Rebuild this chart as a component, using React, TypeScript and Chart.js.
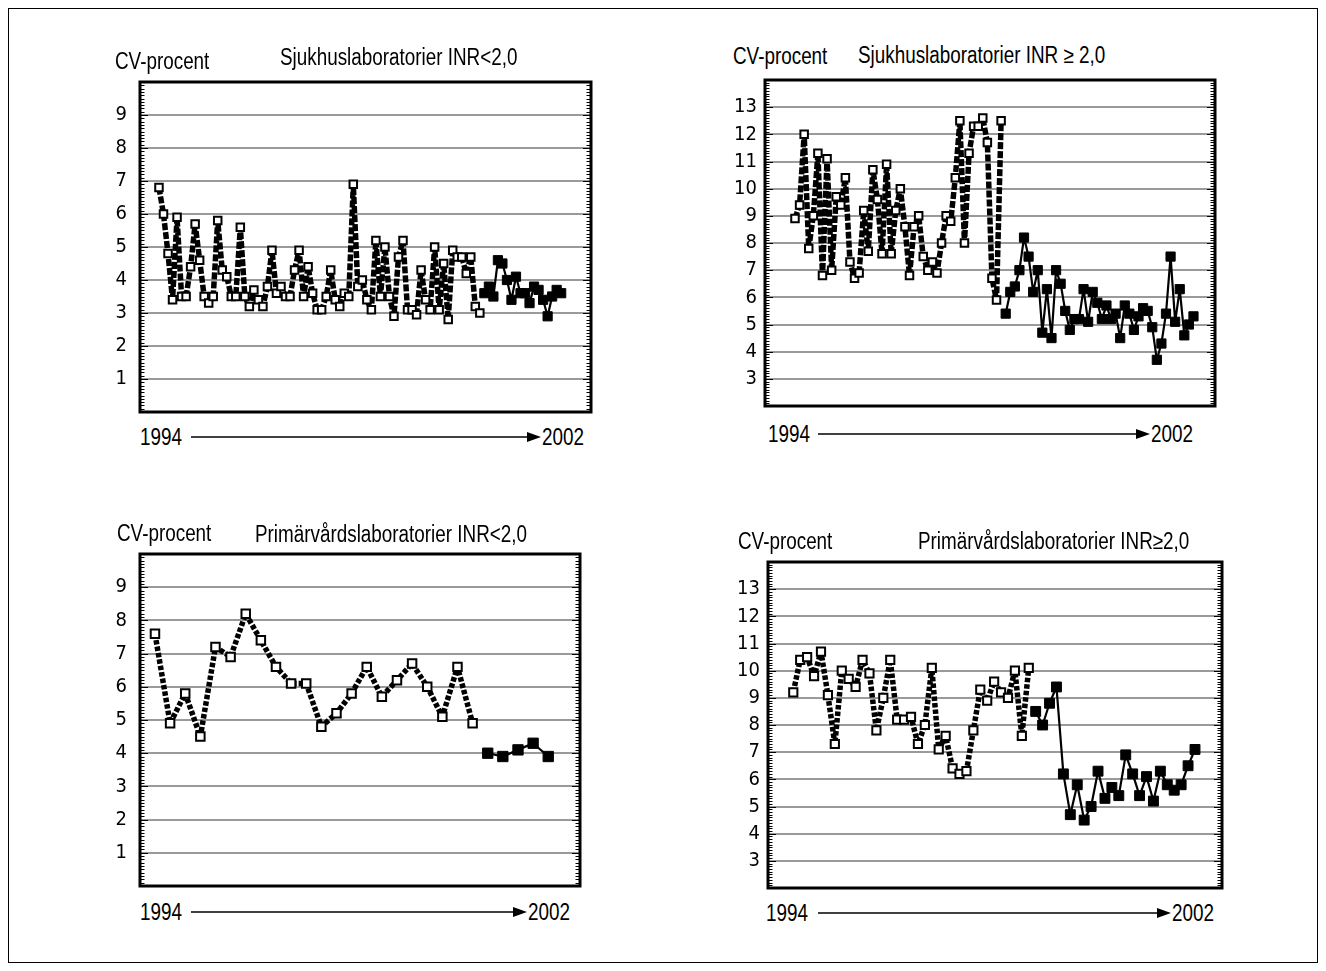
import React, { useEffect, useRef } from 'react';
import { Chart, registerables } from 'chart.js';
Chart.register(...registerables);

const TEXT_FONT = '"Liberation Sans", Arimo, Arial, sans-serif';
const TICK_FONT = '"DejaVu Sans Condensed", "Liberation Sans", sans-serif';

// ---------- data ----------
const p1Hollow = [6.8, 6.0, 4.8, 3.4, 5.9, 3.5, 3.5, 4.4, 5.7, 4.6, 3.5, 3.3, 3.5, 5.8, 4.3, 4.1, 3.5, 3.5, 5.6, 3.5, 3.2, 3.7, 3.4, 3.2, 3.8, 4.9, 3.6, 3.8, 3.5, 3.5, 4.3, 4.9, 3.5, 4.4, 3.6, 3.1, 3.1, 3.5, 4.3, 3.4, 3.2, 3.6, 3.5, 6.9, 3.8, 4.0, 3.4, 3.1, 5.2, 3.5, 5.0, 3.5, 2.9, 4.7, 5.2, 3.1, 3.1, 2.95, 4.3, 3.4, 3.1, 5.0, 3.1, 4.5, 2.8, 4.9, 4.7, 4.7, 4.2, 4.7, 3.2, 3.0];
const p1Solid = [3.6, 3.8, 3.5, 4.6, 4.5, 4.0, 3.4, 4.1, 3.6, 3.6, 3.3, 3.8, 3.7, 3.4, 2.9, 3.5, 3.7, 3.6];

const p2Hollow = [8.9, 9.4, 12.0, 7.8, 9.0, 11.3, 6.8, 11.1, 7.0, 9.7, 9.4, 10.4, 7.3, 6.7, 6.9, 9.2, 7.7, 10.7, 9.6, 7.6, 10.9, 7.6, 9.2, 10.0, 8.6, 6.8, 8.6, 9.0, 7.5, 7.0, 7.3, 6.9, 8.0, 9.0, 8.8, 10.4, 12.5, 8.0, 11.3, 12.3, 12.3, 12.6, 11.7, 6.7, 5.9, 12.5];
const p2Solid = [5.4, 6.2, 6.4, 7.0, 8.2, 7.5, 6.2, 7.0, 4.7, 6.3, 4.5, 7.0, 6.5, 5.5, 4.8, 5.2, 5.2, 6.3, 5.1, 6.2, 5.8, 5.2, 5.7, 5.2, 5.4, 4.5, 5.7, 5.4, 4.8, 5.3, 5.6, 5.5, 4.9, 3.7, 4.3, 5.4, 7.5, 5.1, 6.3, 4.6, 5.0, 5.3];

const p3Hollow = [7.6, 4.9, 5.8, 4.5, 7.2, 6.9, 8.2, 7.4, 6.6, 6.1, 6.1, 4.8, 5.2, 5.8, 6.6, 5.7, 6.2, 6.7, 6.0, 5.1, 6.6, 4.9];
const p3Solid = [4.0, 3.9, 4.1, 4.3, 3.9];

const p4Hollow = [9.2, 10.4, 10.5, 9.8, 10.7, 9.1, 7.3, 10.0, 9.7, 9.4, 10.4, 9.9, 7.8, 9.0, 10.4, 8.2, 8.2, 8.3, 7.3, 8.0, 10.1, 7.1, 7.6, 6.4, 6.2, 6.3, 7.8, 9.3, 8.9, 9.6, 9.2, 9.0, 10.0, 7.6, 10.1];
const p4Solid = [8.5, 8.0, 8.8, 9.4, 6.2, 4.7, 5.8, 4.5, 5.0, 6.3, 5.3, 5.7, 5.4, 6.9, 6.2, 5.4, 6.1, 5.2, 6.3, 5.8, 5.6, 5.8, 6.5, 7.1];

const yLabel = 'CV-procent';
const titles = ['Sjukhuslaboratorier INR<2,0', 'Sjukhuslaboratorier INR \u2265 2,0', 'Primärvårdslaboratorier INR<2,0', 'Primärvårdslaboratorier INR\u22652,0'];
const startYear = '1994';
const endYear = '2002';

// ---------- layout ----------
const AXW = 50;
const PAD = 10;

type Spec = {
  hollow: number[]; solid: number[]; title: string;
  L: number; T: number; R: number; B: number;
  yMin: number; yMax: number; xMin: number; xMax: number;
  dash: number[]; lw: number; labelPad: number; hr: number; sr: number;
  cvX: number; cvY: number; titleX: number; titleY: number;
  footY: number; f1994: number; arrowFrom: number; arrowTo: number; f2002: number;
};

const specs: Spec[] = [
  { hollow: p1Hollow, solid: p1Solid, title: titles[0], L: 140, T: 82, R: 591, B: 412, yMin: 0, yMax: 10, xMin: -4.2, xMax: 95.6, dash: [7, 2], lw: 5.5, labelPad: 13, hr: 5.3, sr: 6.5,
    cvX: 115, cvY: 61, titleX: 280, titleY: 57, footY: 437, f1994: 140, arrowFrom: 191, arrowTo: 541, f2002: 542 },
  { hollow: p2Hollow, solid: p2Solid, title: titles[1], L: 765, T: 80, R: 1215, B: 406, yMin: 2, yMax: 14, xMin: -6.55, xMax: 91.7, dash: [7, 2], lw: 5.5, labelPad: 8, hr: 5.3, sr: 6.5,
    cvX: 733, cvY: 56, titleX: 858, titleY: 55, footY: 434, f1994: 768, arrowFrom: 818, arrowTo: 1150, f2002: 1151 },
  { hollow: p3Hollow, solid: p3Solid, title: titles[2], L: 140, T: 554, R: 580, B: 886, yMin: 0, yMax: 10, xMin: -0.99, xMax: 28.1, dash: [4.5, 2], lw: 5.5, labelPad: 13, hr: 6.0, sr: 7.3,
    cvX: 117, cvY: 533, titleX: 255, titleY: 534, footY: 912, f1994: 140, arrowFrom: 191, arrowTo: 527, f2002: 528 },
  { hollow: p4Hollow, solid: p4Solid, title: titles[3], L: 768, T: 562, R: 1222, B: 888, yMin: 2, yMax: 14, xMin: -3.65, xMax: 61.9, dash: [4.5, 2], lw: 5.5, labelPad: 8, hr: 5.8, sr: 7.0,
    cvX: 738, cvY: 541, titleX: 918, titleY: 541, footY: 913, f1994: 766, arrowFrom: 818, arrowTo: 1171, f2002: 1172 },
];

const framePlugin = {
  id: 'frame',
  beforeDatasetsDraw(chart: any) {
    const { ctx, chartArea: a, scales } = chart;
    const y = scales.y;
    ctx.save();
    ctx.strokeStyle = '#000';
    ctx.lineWidth = 1;
    const step = 0.1;
    const n = Math.round((y.max - y.min) / step);
    for (let i = 1; i < n; i++) {
      const v = y.min + i * step;
      const py = Math.round(y.getPixelForValue(v)) + 0.5;
      const major = i % 10 === 0;
      const len = major ? 8 : 4.5;
      ctx.beginPath();
      ctx.moveTo(a.left, py); ctx.lineTo(a.left + len, py);
      ctx.moveTo(a.right, py); ctx.lineTo(a.right - len, py);
      ctx.stroke();
    }
    ctx.lineWidth = 3;
    ctx.strokeRect(a.left, a.top, a.right - a.left, a.bottom - a.top);
    ctx.restore();
  },
};

function makeConfig(s: Spec): any {
  return {
    type: 'line',
    data: {
      datasets: [
        {
          data: s.hollow.map((v, i) => ({ x: i, y: v })),
          borderColor: '#000', borderWidth: s.lw, borderDash: s.dash,
          borderJoinStyle: 'bevel', borderCapStyle: 'butt',
          pointStyle: 'rect', pointRadius: s.hr, pointBackgroundColor: '#fff',
          pointBorderColor: '#000', pointBorderWidth: 2, tension: 0, fill: false,
        },
        {
          data: s.solid.map((v, i) => ({ x: i + s.hollow.length, y: v })),
          borderColor: '#000', borderWidth: 2.2, borderJoinStyle: 'bevel',
          pointStyle: 'rect', pointRadius: s.sr, pointBackgroundColor: '#000',
          pointBorderColor: '#000', pointBorderWidth: 1, tension: 0, fill: false,
        },
      ],
    },
    options: {
      animation: false, responsive: false, maintainAspectRatio: false,
      layout: { padding: { top: PAD, right: PAD, bottom: PAD, left: 0 } },
      plugins: { legend: { display: false }, tooltip: { enabled: false }, title: { display: false } },
      scales: {
        x: { type: 'linear', min: s.xMin, max: s.xMax, display: false },
        y: {
          min: s.yMin, max: s.yMax,
          afterFit: (sc: any) => {
            sc.width = AXW;
            sc.paddingTop = 0; sc.paddingBottom = 0; sc.paddingLeft = 0; sc.paddingRight = 0;
          },
          ticks: {
            stepSize: 1, autoSkip: false,
            callback: (v: number) => (v > s.yMin && v < s.yMax ? String(v) : ''),
            font: { family: TICK_FONT, size: 20 }, color: '#000', padding: s.labelPad,
          },
          grid: { color: '#9a9a9a', lineWidth: 2, drawTicks: false },
          border: { display: false },
        },
      },
    },
    plugins: [framePlugin],
  };
}

function Txt({ x, y, t }: { x: number; y: number; t: string }) {
  return (
    <div style={{ position: 'absolute', left: x, top: y - 14, height: 28, lineHeight: '28px', fontFamily: TEXT_FONT, fontSize: 23, color: '#000', whiteSpace: 'nowrap', transform: 'scaleX(0.82)', transformOrigin: '0 50%' }}>{t}</div>
  );
}

function Panel({ s }: { s: Spec }) {
  const ref = useRef<HTMLCanvasElement>(null);
  const w = s.R - s.L + AXW + PAD;
  const h = s.B - s.T + 2 * PAD;
  useEffect(() => {
    const chart = new Chart(ref.current as HTMLCanvasElement, makeConfig(s));
    return () => chart.destroy();
  }, []);
  return (
    <>
      <canvas ref={ref} width={w} height={h} style={{ position: 'absolute', left: s.L - AXW, top: s.T - PAD, width: w, height: h }} />
      <Txt x={s.cvX} y={s.cvY} t={yLabel} />
      <Txt x={s.titleX} y={s.titleY} t={s.title} />
      <Txt x={s.f1994} y={s.footY} t={startYear} />
      <Txt x={s.f2002} y={s.footY} t={endYear} />
      <svg style={{ position: 'absolute', left: 0, top: 0, overflow: 'visible' }} width={1} height={1}>
        <line x1={s.arrowFrom} y1={s.footY} x2={s.arrowTo - 12} y2={s.footY} stroke="#000" strokeWidth={1.3} />
        <polygon points={`${s.arrowTo},${s.footY} ${s.arrowTo - 14},${s.footY - 5} ${s.arrowTo - 14},${s.footY + 5}`} fill="#000" />
      </svg>
    </>
  );
}

export default function App() {
  return (
    <div style={{ position: 'absolute', left: 0, top: 0, width: 1326, height: 971, background: '#fff', overflow: 'hidden' }}>
      <div style={{ position: 'absolute', left: 8, top: 8, width: 1310, height: 955, border: '1px solid #000', boxSizing: 'border-box' }} />
      {specs.map((s, i) => <Panel key={i} s={s} />)}
    </div>
  );
}
